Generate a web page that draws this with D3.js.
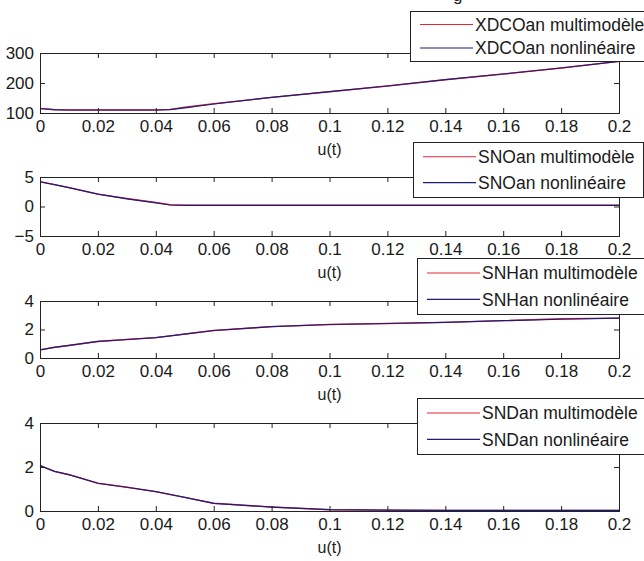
<!DOCTYPE html>
<html>
<head>
<meta charset="utf-8">
<script src="https://cdnjs.cloudflare.com/ajax/libs/d3/7.8.5/d3.min.js"></script>
<style>
  html, body { margin: 0; padding: 0; background: #fff; overflow: hidden; }
  svg text { font-family: "Liberation Sans", Arial, sans-serif; fill: #1a1a1a; }
</style>
</head>
<body>
<div id="chart"></div>
<script>
// u(t) sample points shared by all four panels
var uValues = [0, 0.005, 0.01, 0.02, 0.03, 0.04, 0.045, 0.05, 0.06, 0.08, 0.1, 0.12, 0.14, 0.16, 0.18, 0.2];
var xTicks = [0, 0.02, 0.04, 0.06, 0.08, 0.1, 0.12, 0.14, 0.16, 0.18, 0.2];

var xdcoMulti  = [115, 111, 110, 110, 110, 110, 112, 119, 131, 152, 171, 190, 211, 230, 250, 272];
var xdcoNonlin = [115, 111, 110, 110, 110, 110, 111, 117, 130, 152, 171, 190, 211, 230, 250, 272];
var snoMulti   = [4.2, 3.7, 3.2, 2.1, 1.35, 0.7, 0.3, 0.2, 0.2, 0.2, 0.2, 0.2, 0.2, 0.2, 0.2, 0.2];
var snoNonlin  = [4.2, 3.7, 3.2, 2.1, 1.3, 0.6, 0.25, 0.2, 0.2, 0.2, 0.2, 0.2, 0.2, 0.2, 0.2, 0.2];
var snhMulti   = [0.57, 0.75, 0.88, 1.16, 1.3, 1.43, 1.55, 1.68, 1.93, 2.2, 2.35, 2.42, 2.5, 2.62, 2.75, 2.8];
var snhNonlin  = [0.57, 0.75, 0.88, 1.16, 1.3, 1.43, 1.55, 1.68, 1.93, 2.2, 2.35, 2.42, 2.5, 2.62, 2.72, 2.8];
var sndMulti   = [2.06, 1.8, 1.65, 1.26, 1.08, 0.88, 0.75, 0.62, 0.35, 0.18, 0.06, 0.04, 0.03, 0.03, 0.03, 0.03];
var sndNonlin  = [2.06, 1.8, 1.65, 1.26, 1.08, 0.88, 0.75, 0.62, 0.35, 0.18, 0.06, 0.04, 0.03, 0.03, 0.03, 0.03];

var width = 644, height = 561;
var left = 40, right = 619;
var red = "#e0283c", blue = "#1c1c78";

var panels = [
    {name: "XDCOan", multi: xdcoMulti, nonlin: xdcoNonlin, yDomain: [100, 300], yTicks: [100, 200, 300],
     top: 53, bottom: 113, legend: {x: 410, y: 11, w: 250, h: 50}},
    {name: "SNOan", multi: snoMulti, nonlin: snoNonlin, yDomain: [-5, 5], yTicks: [-5, 0, 5],
     top: 177, bottom: 236, legend: {x: 413, y: 142, w: 230, h: 55}},
    {name: "SNHan", multi: snhMulti, nonlin: snhNonlin, yDomain: [0, 4], yTicks: [0, 2, 4],
     top: 301, bottom: 358, legend: {x: 417, y: 258, w: 240, h: 56}},
    {name: "SNDan", multi: sndMulti, nonlin: sndNonlin, yDomain: [0, 4], yTicks: [0, 2, 4],
     top: 423, bottom: 511, legend: {x: 417, y: 398, w: 240, h: 56}}
];

var svg = d3.select("#chart").append("svg")
            .attr("width", width)
            .attr("height", height);

// title is hidden above the figure, only a descender pokes through
svg.append("text")
    .attr("x", 453).attr("y", 1)
    .style("font-size", "17px")
    .text("g");

var x = d3.scaleLinear().domain([0, 0.2]).range([left, right]);
var numFormat = d3.format("");

panels.forEach(function(p) {
    var y = d3.scaleLinear().domain(p.yDomain).range([p.bottom, p.top]);
    var g = svg.append("g");
    var tickLen = 5;

    // series: red first, blue drawn on top
    var line = d3.line()
        .x(function(d, i) { return x(uValues[i]); })
        .y(function(d) { return y(d); });
    g.append("path").datum(p.multi)
        .attr("d", line).attr("fill", "none")
        .attr("stroke", red).attr("stroke-width", 1.4);
    g.append("path").datum(p.nonlin)
        .attr("d", line).attr("fill", "none")
        .attr("stroke", blue).attr("stroke-width", 1.2);

    // axes (MATLAB style: inward ticks on all four sides)
    var bottomAxis = d3.axisBottom(x).tickValues(xTicks).tickSize(-tickLen).tickPadding(7).tickFormat(numFormat);
    var topAxis = d3.axisTop(x).tickValues(xTicks).tickSize(-tickLen).tickFormat("");
    var leftAxis = d3.axisLeft(y).tickValues(p.yTicks).tickSize(-tickLen).tickPadding(6).tickFormat(numFormat);
    var rightAxis = d3.axisRight(y).tickValues(p.yTicks).tickSize(-tickLen).tickFormat("");

    g.append("g").attr("transform", "translate(0," + p.bottom + ")").call(bottomAxis);
    g.append("g").attr("transform", "translate(0," + p.top + ")").call(topAxis);
    g.append("g").attr("transform", "translate(" + left + ",0)").call(leftAxis);
    g.append("g").attr("transform", "translate(" + right + ",0)").call(rightAxis);

    g.selectAll(".domain").attr("stroke", "#222").attr("stroke-width", 1);
    g.selectAll(".tick line").attr("stroke", "#222");
    g.selectAll(".tick text").style("font-size", "17px").attr("fill", "#1a1a1a");

    g.append("text")
        .attr("x", (left + right) / 2)
        .attr("y", p.bottom + 42)
        .attr("text-anchor", "middle")
        .style("font-size", "16px")
        .text("u(t)");

    // legend box
    var L = p.legend;
    var lg = svg.append("g").attr("transform", "translate(" + L.x + "," + L.y + ")");
    lg.append("rect")
        .attr("x", 0.5).attr("y", 0.5)
        .attr("width", L.w).attr("height", L.h)
        .attr("fill", "#fff").attr("stroke", "#222").attr("stroke-width", 1);
    var rows = [
        {label: p.name + " multimodèle", color: red},
        {label: p.name + " nonlinéaire", color: blue}
    ];
    var rowY = [L.h * 0.25 + 1, L.h * 0.72 + 1];
    rows.forEach(function(r, i) {
        lg.append("line")
            .attr("x1", 10).attr("x2", 63)
            .attr("y1", rowY[i]).attr("y2", rowY[i])
            .attr("stroke", r.color).attr("stroke-width", 1.2);
        lg.append("text")
            .attr("x", 65).attr("y", rowY[i])
            .attr("dy", "0.36em")
            .style("font-size", "17.5px")
            .text(r.label);
    });
});
</script>
</body>
</html>
